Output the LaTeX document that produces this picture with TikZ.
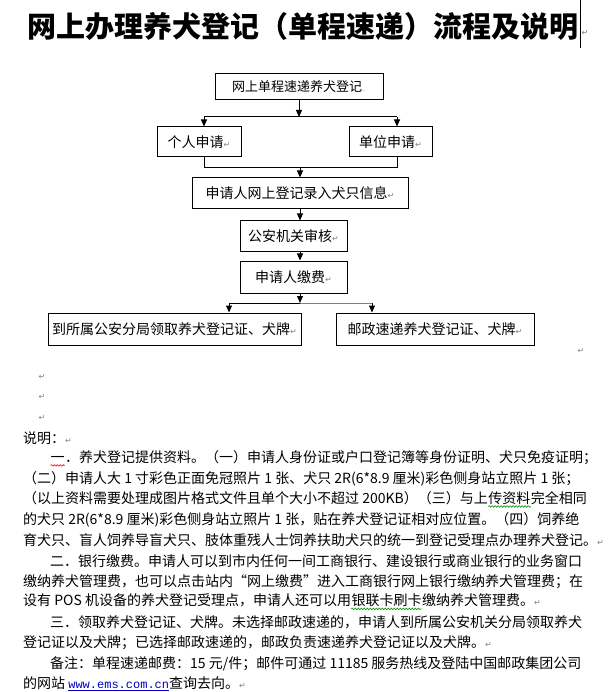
\documentclass[tikz,border=0pt]{standalone}
\usepackage{fontspec}
\setmainfont{Noto Sans CJK SC}
\newfontfamily\markfont{DejaVu Sans}
\newfontfamily\linkfont{Liberation Mono}
\usepackage{xcolor}
\usepackage{tikz}
\usetikzlibrary{positioning,arrows.meta,decorations.pathmorphing}

% Word marks: paragraph return and spell-check waves
\newcommand{\pmark}{{\markfont\fontsize{8}{8}\selectfont\textcolor{gray}{↵}}}
\newcommand{\wavemark}[2]{\tikz[baseline=(w.base)]{\node[inner sep=0pt] (w) {#2};
  \draw[#1, line width=0.6pt, decorate, decoration={snake, amplitude=0.8pt, segment length=3pt}]
    ([yshift=-3pt]w.base west) -- ([yshift=-3pt]w.base east);}}

\begin{document}
\begin{tikzpicture}[
  x=1pt, y=-1pt,
  box/.style={rectangle, draw, line width=1pt, inner sep=0pt, font=\fontsize{14}{16}\selectfont},
  arrow/.style={-{Triangle[length=7pt,width=6pt]}, line width=1pt},
  wire/.style={line width=1pt},
  txt/.style={anchor=west, inner sep=0pt, font=\fontsize{14}{16}\selectfont},
]
  \useasboundingbox (0,0) rectangle (613,692);

  % title
  \node[font=\fontsize{29}{30}\selectfont\bfseries] (title) at (303,26) {网上办理养犬登记（单程速递）流程及说明};
  \draw[line width=1pt] (580,0) -- (580,48);
  \node[inner sep=0pt] (tmark) at (585,33) {\pmark};

  % flow boxes
  \node[box, minimum width=168pt, minimum height=26pt, font=\fontsize{13}{15}\selectfont] (net) at (299,87)
    {网上单程速递养犬登记{\fontsize{7}{7}\selectfont\textcolor{gray}{..}}};
  \node[box, minimum width=84pt, minimum height=30pt] (person) at (199,142) {个人申请\pmark};
  \node[box, minimum width=83pt, minimum height=30pt] (unit) at (390.5,142) {单位申请\pmark};
  \node[box, minimum width=216pt, minimum height=31pt] (entry) at (300,193.5) {申请人网上登记录入犬只信息\pmark};
  \node[box, minimum width=107pt, minimum height=31pt] (check) at (293.5,236.5) {公安机关审核\pmark};
  \node[box, minimum width=107pt, minimum height=32pt] (pay) at (293.5,277) {申请人缴费\pmark};
  \node[box, minimum width=253pt, minimum height=32pt] (fetch) at (174.5,329) {到所属公安分局领取养犬登记证、犬牌\pmark};
  \node[box, minimum width=198pt, minimum height=32pt] (post) at (435,329) {邮政速递养犬登记证、犬牌\pmark};
  \node[inner sep=0pt] (fmark) at (581,351) {\pmark};

  % connectors
  \coordinate (split1) at (299,117);
  \coordinate (split1l) at (204,117);
  \coordinate (split1r) at (397,117);
  \draw[arrow] (net.south) -- (split1);
  \draw[wire] (split1l) -- (split1r);
  \draw[arrow] (split1l) -- (split1l |- person.north);
  \draw[arrow] (split1r) -- (split1r |- unit.north);

  \coordinate (join1l) at (204,168);
  \coordinate (join1r) at (397,168);
  \draw[wire] (join1l |- person.south) -- (join1l) -- (join1r) -- (join1r |- unit.south);
  \draw[arrow] (entry.north |- join1l) -- (entry.north);

  \draw[arrow] (entry.south) -- (entry.south |- check.north);
  \draw[arrow] (entry.south |- check.south) -- (entry.south |- pay.north);

  \coordinate (split2) at (300,303);
  \coordinate (split2l) at (229,303);
  \coordinate (split2r) at (372,303);
  \draw[wire] (split2l) -- (split2);
  \draw[wire, gray] (split2) -- (split2r);
  \draw[arrow] (entry.south |- pay.south) -- (split2);
  \draw[arrow] (split2l) -- (split2l |- fetch.north);
  \draw[arrow] (split2r) -- (split2r |- post.north);

  % empty paragraphs
  \node[inner sep=0pt] (e1) at (42,377) {\pmark};
  \node[inner sep=0pt] (e2) at (42,397) {\pmark};
  \node[inner sep=0pt] (e3) at (42,418) {\pmark};

  % notes
  \node[txt] (t0) at (23,438) {说明：\pmark};
  \node[txt] (t1) at (50,458.5) {\wavemark{red}{一}．养犬登记提供资料。（一）申请人身份证或户口登记簿等身份证明、犬只免疫证明；};
  \node[txt] (t2) at (23,479) {（二）申请人大 1 寸彩色正面免冠照片 1 张、犬只 2R(6*8.9 厘米)彩色侧身站立照片 1 张；};
  \node[txt] (t3) at (23,499.5) {（以上资料需要处理成图片格式文件且单个大小不超过 200KB）（三）与上\wavemark{green!55!black}{传资料}完全相同};
  \node[txt] (t4) at (23,520) {的犬只 2R(6*8.9 厘米)彩色侧身站立照片 1 张，贴在养犬登记证相对应位置。（四）饲养绝};
  \node[txt] (t5) at (23,540.5) {育犬只、盲人饲养导盲犬只、肢体重残人士饲养扶助犬只的统一到登记受理点办理养犬登记。\pmark};
  \node[txt] (t6) at (50,561) {二．银行缴费。申请人可以到市内任何一间工商银行、建设银行或商业银行的业务窗口};
  \node[txt] (t7) at (23,581.5) {缴纳养犬管理费，也可以点击站内“网上缴费”进入工商银行网上银行缴纳养犬管理费；在};
  \node[txt] (t8) at (23,602) {设有 POS 机设备的养犬登记受理点，申请人还可以用\wavemark{green!55!black}{银联卡刷卡}缴纳养犬管理费。\pmark};
  \node[txt] (t9) at (50,622.5) {三．领取养犬登记证、犬牌。未选择邮政速递的，申请人到所属公安机关分局领取养犬};
  \node[txt] (t10) at (23,643) {登记证以及犬牌；已选择邮政速递的，邮政负责速递养犬登记证以及犬牌。\pmark};
  \node[txt] (t11) at (50,663.5) {备注：单程速递邮费：15 元/件；邮件可通过 11185 服务热线及登陆中国邮政集团公司};
  \node[txt] (t12) at (23,684) {的网站 {\linkfont\fontsize{12}{14}\selectfont\color{blue!75!black}\underline{www.ems.com.cn}}查询去向。\pmark};
\end{tikzpicture}
\end{document}
